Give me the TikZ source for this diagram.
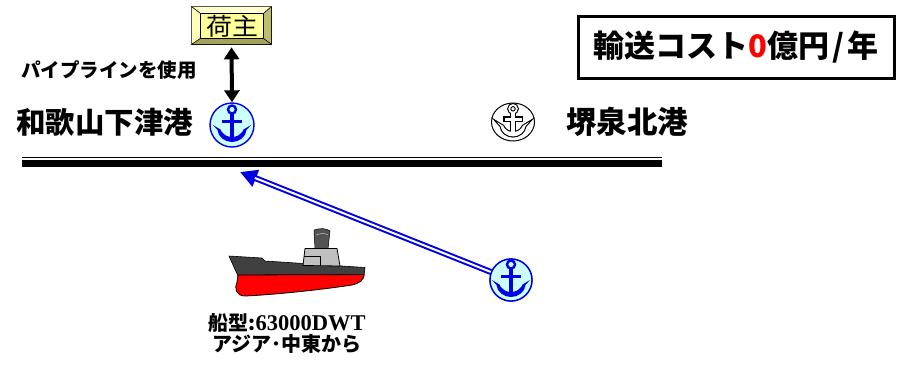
\documentclass[tikz,border=0pt]{standalone}
\usepackage{fontspec}
\newfontfamily\jp{Noto Sans CJK JP}
\newfontfamily\latin{Liberation Serif}
\usetikzlibrary{arrows.meta,calc,shapes.geometric}

\definecolor{ancblue}{HTML}{0000E6}
\definecolor{ancfill}{HTML}{CCFFFF}
\definecolor{hullgray}{HTML}{404040}
\definecolor{cabingray}{HTML}{C0C0C0}
\definecolor{facey}{HTML}{FFFF99}
\definecolor{bevtop}{HTML}{FFFFD0}
\definecolor{bevleft}{HTML}{FFFFB8}
\definecolor{bevright}{HTML}{BDBD70}
\definecolor{bevbot}{HTML}{A3A35A}

\tikzset{
  jpbold/.style={font=\jp\bfseries\fontsize{#1}{#1}\selectfont, inner sep=0pt,
                 text height=0.8em, text depth=0.1em},
  harbor/.style={circle, draw=ancblue, fill=ancfill, line width=1.4pt, minimum size=44pt, inner sep=0pt},
  plainharbor/.style={ellipse, draw=black, fill=white, line width=1pt, inner sep=0pt},
  % anchor arms (crescent with flukes), local coordinates, y pointing down
  arms/.style={insert path={
    (-19,0) -- (-14.5,5) .. controls (-14,12) and (-7,17) .. (0,17)
    .. controls (7,17) and (14,12) .. (14.5,5) -- (19,0) -- (11.5,4.5) -- (10.5,6.5)
    .. controls (7.5,10.5) and (4,12) .. (0,12)
    .. controls (-4,12) and (-7.5,10.5) .. (-10.5,6.5) -- (-11.5,4.5) -- cycle}},
  anchorring/.pic={\draw[line width=2.4pt] (0,-15.5) circle (4);},
  anchorbody/.pic={
    \fill (-1.9,-11.5) rectangle (1.9,14);
    \fill (-10,-5) rectangle (10,-1.6);
    \fill[arms];
  },
  anchoroutline/.pic={
    \begin{scope}[scale=0.85]
    % outline of the union: thick strokes first, then white fill on top
    \begin{scope}[draw=black, line width=2.2pt]
      \draw (0,-15.5) circle (5.6);
      \draw (-2.2,-11) rectangle (2.2,14);
      \draw (-10,-5.2) rectangle (10,-1.3);
      \draw[arms];
    \end{scope}
    \begin{scope}[fill=white]
      \fill (0,-15.5) circle (5.6);
      \fill (-2.2,-11) rectangle (2.2,14);
      \fill (-10,-5.2) rectangle (10,-1.3);
      \fill[arms];
    \end{scope}
    \draw[line width=0.9pt] (0,-15.5) circle (2.6);
    \end{scope}
  },
}

\begin{document}
\begin{tikzpicture}[x=1pt, y=-1pt]
\useasboundingbox (0,0) rectangle (900,365);

% ---------- shipper box with bevelled frame ----------
\node[draw=black, line width=0.6pt, minimum width=79pt, minimum height=37pt, inner sep=0pt]
  (shipper) at (231.5,25.5) {};
\coordinate (nw) at (shipper.north west);
\coordinate (ne) at (shipper.north east);
\coordinate (sw) at (shipper.south west);
\coordinate (se) at (shipper.south east);
\coordinate (inw) at ($(nw)+(9,7)$);
\coordinate (ine) at ($(ne)+(-8,7)$);
\coordinate (isw) at ($(sw)+(9,-6)$);
\coordinate (ise) at ($(se)+(-8,-6)$);
\begin{scope}[draw=black, line width=0.5pt]
  \filldraw[fill=bevtop]   (nw) -- (ne) -- (ine) -- (inw) -- cycle;
  \filldraw[fill=bevleft]  (nw) -- (inw) -- (isw) -- (sw) -- cycle;
  \filldraw[fill=bevright] (ne) -- (se) -- (ise) -- (ine) -- cycle;
  \filldraw[fill=bevbot]   (sw) -- (isw) -- (ise) -- (se) -- cycle;
  \filldraw[fill=facey]    (inw) -- (ine) -- (ise) -- (isw) -- cycle;
\end{scope}
\node[inner sep=0pt, xscale=1.08, font=\jp\fontsize{24}{24}\selectfont] (shiptxt)
  at ($(inw)!0.5!(ise)+(0,0.5)$) {荷主};

% ---------- ports ----------
\node[harbor] (a1) at (232,125) {};
\pic[ancblue] at (a1) {anchorring};
\pic[ancblue] at (a1) {anchorbody};

\node[plainharbor, minimum width=43pt, minimum height=38pt] (a2) at (513,122) {};
\pic at (a2) {anchoroutline};

\node[jpbold=29.5, anchor=west] (wakayama) at (16,130) {和歌山下津港};
\node[jpbold=30.5, anchor=west] (sakai) at (566,130) {堺泉北港};
\node[jpbold=19.5, anchor=west] (pipe) at (21,74) {パイプラインを使用};

% pipeline link between shipper and port
\draw[line width=4pt, {Triangle[length=12pt,width=15pt]}-{Triangle[length=12pt,width=15pt]}, shorten <=3pt]
  (shipper.south) -- (a1.north);

% ---------- shoreline ----------
\coordinate (shoreL) at (22,157.5);
\coordinate (shoreR) at (662,157.5);
\draw[line width=1.6pt] (shoreL) -- (shoreR);
\draw[line width=6.5pt] ($(shoreL)+(0,6)$) -- ($(shoreR)+(0,6)$);

% ---------- route ----------
\node[harbor, minimum size=42pt] (a3) at (511,280) {};
\coordinate (arrtip) at (240,172);
\draw[ancblue, line width=6pt, -{Triangle[length=17pt,width=17pt]}] (a3) -- (arrtip);
\draw[white, line width=2pt, shorten >=16pt] (a3) -- (arrtip);
% port drawn over the start of the route
\node[harbor, minimum size=42pt] at (a3) {};
\pic[ancblue] at (a3) {anchorring};
\pic[ancblue] at (a3) {anchorbody};

% ---------- cost box ----------
\node[draw=black, line width=3pt, minimum width=316pt, minimum height=62pt, inner sep=0pt,
      font=\jp\bfseries\fontsize{31}{31}\selectfont] (cost) at (736,47)
  {輸送コスト\textcolor{red}{0}億円\kern3pt/\kern3pt年};

% ---------- ship ----------
\begin{scope}[line join=round]
  % funnel
  \filldraw[fill=hullgray!90, draw=black, line width=0.5pt]
    (314,230) .. controls (320,228) and (326,228) .. (330,231) -- (328,249) -- (315,249) -- cycle;
  \draw[gray!60, line width=0.6pt] (316,235) .. controls (321,233) and (325,233) .. (328,235);
  % hull upper part
  \filldraw[fill=hullgray, draw=black, line width=0.6pt]
    (229,256) -- (262,258) -- (265,261) -- (365,267.5) -- (364,276) -- (238,276) -- cycle;
  % superstructure
  \filldraw[fill=cabingray, draw=black, line width=0.8pt]
    (305,248.5) -- (337,248.5) -- (340,266) -- (303,265.5) -- cycle;
  \draw[line width=0.6pt] (304,256.5) -- (320,256.5) -- (320,266);
  % hull lower part
  \filldraw[fill=red, draw=black, line width=0.8pt]
    (238,275) -- (364,274.5) .. controls (364,280) and (360,283) .. (352,285)
    .. controls (320,290) and (270,295) .. (245,296)
    .. controls (236,296) and (234,288) .. (237,282) -- cycle;
\end{scope}

\node[jpbold=20] (shiptype) at (287,327)
  {船型:{\latin\bfseries\fontsize{22.5}{22.5}\selectfont 63000DWT}};
\node[jpbold=20] (origin) at (287,347.5) {アジア･中東から};
\end{tikzpicture}
\end{document}
